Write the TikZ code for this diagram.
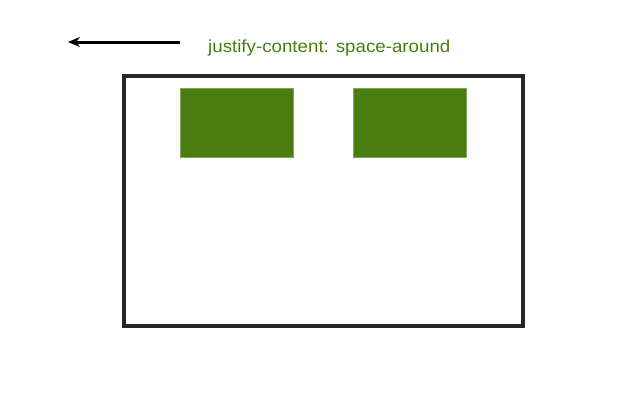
\documentclass[tikz,border=0pt]{standalone}
\usepackage{fontspec}
\setmainfont{Liberation Sans}
\newfontfamily\labelfont[FakeStretch=1.07]{Liberation Sans}
\usetikzlibrary{arrows.meta}
\definecolor{leaf}{RGB}{74,125,16}

\begin{document}
\begin{tikzpicture}[x=1pt,y=-1pt,
  item/.style={fill=leaf,draw=leaf!70!white,line width=0.6pt,minimum width=113pt,minimum height=69pt,inner sep=0pt}]
  \useasboundingbox (0,0) rectangle (640,400);
  \node[draw=black!85,line width=4pt,minimum width=399pt,minimum height=250pt,inner sep=0pt] (box) at (323.5,201) {};
  \node[item] (a) at (236.5,122.5) {};
  \node[item] (b) at (409.5,122.5) {};
  \coordinate (start) at (180,42);
  \coordinate (end) at (68,42);
  \draw[line width=3pt,-{Stealth[length=12pt,width=10pt]}] (start) -- (end);
  \node[text=leaf,font=\labelfont\fontsize{17.5}{20}\selectfont,anchor=base west,inner sep=0pt] (label) at (208,52.5) {justify-content: space-around};
\end{tikzpicture}
\end{document}
